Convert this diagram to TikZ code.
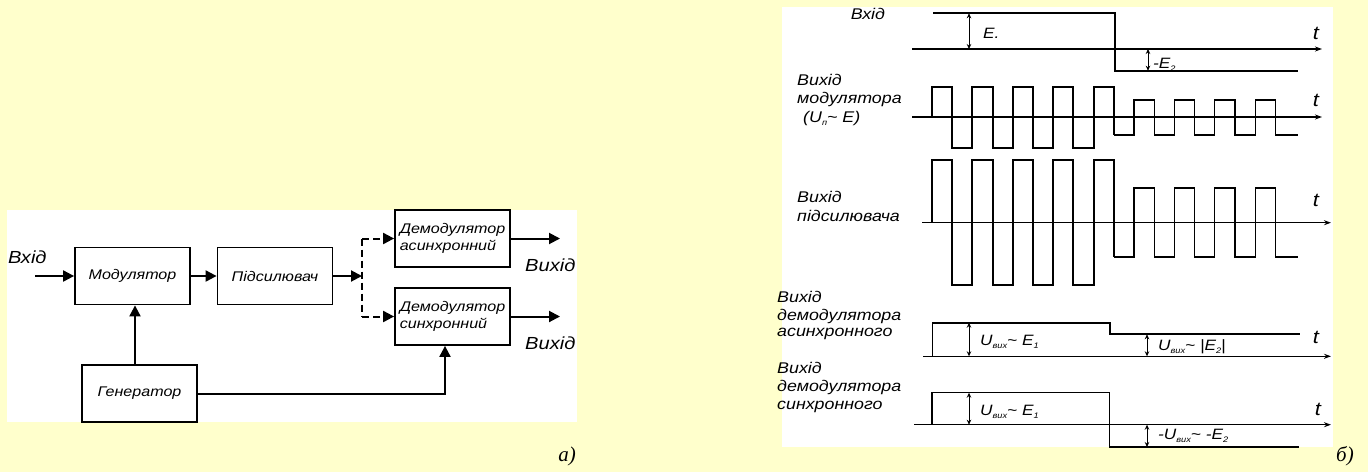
\documentclass[tikz,border=0pt]{standalone}
\usepackage{fontspec}
\newfontfamily\labfont[FakeStretch=1.15]{Liberation Sans}
\newfontfamily\serfont{Liberation Serif}
\usetikzlibrary{arrows.meta,calc}
\definecolor{bgyellow}{RGB}{255,255,204}
\newcommand\lsub[1]{\raisebox{-3pt}{\fontsize{8}{8}\selectfont #1}}
\begin{document}
\begin{tikzpicture}[x=1pt,y=-1pt,
  blk/.style={draw, line width=1.8pt, minimum width=115pt, minimum height=57pt, inner sep=0pt,
    font=\labfont\itshape\fontsize{14}{17.5}\selectfont, align=left, fill=white},
  conn/.style={line width=2pt, -{Triangle[length=11pt,width=11pt]}},
  dconn/.style={conn, dash pattern=on 7pt off 4pt},
  lbl/.style={font=\labfont\itshape\fontsize{15.5}{18}\selectfont, inner sep=0pt, anchor=base west},
  big/.style={font=\labfont\itshape\fontsize{17.5}{20}\selectfont, inner sep=0pt, anchor=west},
  tl/.style={font=\labfont\itshape\fontsize{19}{20}\selectfont, inner sep=0pt},
  val/.style={font=\labfont\itshape\fontsize{15}{17}\selectfont, inner sep=0pt, anchor=base west},
  axis/.style={line width=1.2pt, -{Stealth[length=7pt,width=5pt]}},
  mag/.style={line width=1pt, {Stealth[length=5pt,width=4.5pt]}-{Stealth[length=5pt,width=4.5pt]}},
  sigbig/.style={line width=2pt},
  sigsmall/.style={line width=1.2pt},
  panel/.style={font=\serfont\itshape\fontsize{21}{22}\selectfont, inner sep=0pt},
]
% backgrounds
\fill[bgyellow] (0,0) rectangle (1368,472);
\fill[white] (7,210) rectangle (577,422);
\fill[white] (782,7) rectangle (1333,447);
\useasboundingbox (0,0) rectangle (1368,472);

% ---------------- block diagram (a) ----------------
\node[blk] (mod) at (132.5,276) {Модулятор};
\node[blk] (pod) at (275,276) {Підсилювач};
\node[blk] (gen) at (139.5,393.5) {Генератор};
\node[blk] (das) at (452.5,238.5) {Демодулятор\\асинхронний};
\node[blk] (dsy) at (452.5,316.5) {Демодулятор\\синхронний};

\coordinate (inp) at (35,276);
\node[big] (vin) at (8,257) {Вхід};
\draw[conn] (inp) -- (mod.west);
\draw[conn] (mod.east) -- (pod.west);
\coordinate (split) at (362,276);
\draw[conn] (pod.east) -- (split);
\draw[line width=2pt, dash pattern=on 7pt off 4pt] (split |- das.west) -- (split |- dsy.west);
\draw[dconn] (split |- das.west) -- (das.west);
\draw[dconn] (split |- dsy.west) -- (dsy.west);
\coordinate (oas) at (560,238.5);
\coordinate (osy) at (560,316.5);
\draw[conn] (das.east) -- (oas);
\draw[conn] (dsy.east) -- (osy);
\node[big] (vas) at (525,265) {Вихід};
\node[big] (vsy) at (525,343) {Вихід};
\coordinate (gx) at (135,0);
\draw[conn] (gen.north -| gx) -- (mod.south -| gx);
\draw[conn] (gen.east) -| ($(dsy.south)+(-7.5,0)$);
\node[panel] (pa) at (567,456) {а)};

% ---------------- timing diagram (b) ----------------
% axes
\draw[axis] (912,49) -- (1322,49);
\draw[axis] (912,117) -- (1322,117);
\draw[axis] (922,222.7) -- (1331,222.7);
\draw[axis] (923,356.3) -- (1331,356.3);
\draw[axis] (914,424.7) -- (1331,424.7);
\node[tl] (t1) at (1316,33) {t};
\node[tl] (t2) at (1316,100) {t};
\node[tl] (t3) at (1316,200) {t};
\node[tl] (t4) at (1316,337) {t};
\node[tl] (t5) at (1318,409) {t};

% input
\draw[sigbig] (933,13.3) -- (1114.7,13.3) -- (1114.7,70.7) -- (1298,70.7);
\draw[mag] (969,13.3) -- (969,49);
\draw[mag] (1148,49) -- (1148,70.7);
\node[val] (ve1) at (983,38) {E.};
\node[val] (ve2) at (1153,68) {-E\lsub{2}};
\node[font=\labfont\itshape\fontsize{15.5}{18}\selectfont, inner sep=0pt] (lin) at (868,14) {Вхід};

% modulator output
\draw[sigbig] (932,117) -- (932,87)
  \foreach \i in {1,...,4} { -- ++(20.2,0) -- ++(0,61) -- ++(20.2,0) -- ++(0,-61) }
  -- ++(20.2,0) -- ++(0,48);
\draw[sigsmall] (1113.8,135)
  \foreach \i in {1,...,4} { -- ++(20.2,0) -- ++(0,-35) -- ++(20.2,0) -- ++(0,35) }
  -- (1298,135);
\node[lbl] (lm1) at (797,85) {Вихід};
\node[lbl] (lm2) at (797,103) {модулятора};
\node[lbl] (lm3) at (803,122) {(U\lsub{п}\textasciitilde\ E)};

% amplifier output
\draw[sigbig] (932,222.7) -- (932,160)
  \foreach \i in {1,...,4} { -- ++(20.2,0) -- ++(0,125.3) -- ++(20.2,0) -- ++(0,-125.3) }
  -- ++(20.2,0) -- ++(0,97);
\draw[sigsmall] (1113.8,257)
  \foreach \i in {1,...,4} { -- ++(20.2,0) -- ++(0,-69) -- ++(20.2,0) -- ++(0,69) }
  -- (1298,257);
\node[lbl] (la1) at (797,202) {Вихід};
\node[lbl] (la2) at (797,221) {підсилювача};

% asynchronous demodulator output
\draw[line width=1pt] (932,356.3) -- (932,322.7);
\draw[line width=2.2pt] (932,322.7) -- (1109.7,322.7) -- (1109.7,334.3) -- (1299.7,334.3);
\draw[mag] (969,322.7) -- (969,356.3);
\draw[mag] (1147,334.3) -- (1147,356.3);
\node[val] (va1) at (980,345) {U\lsub{вих}\textasciitilde\ E\lsub{1}};
\node[val] (va2) at (1158,350) {U\lsub{вих}\textasciitilde\ |E\lsub{2}|};
\node[lbl] (ld1) at (777,302) {Вихід};
\node[lbl] (ld2) at (777,320) {демодулятора};
\node[lbl] (ld3) at (777,336) {асинхронного};

% synchronous demodulator output
\draw[line width=1.5pt] (932,424.7) -- (932,392.7) -- (1109.7,392.7) -- (1109.7,447) -- (1299,447);
\draw[mag] (969,392.7) -- (969,424.7);
\draw[mag] (1147,424.7) -- (1147,447);
\node[val] (vs1) at (980,415) {U\lsub{вих}\textasciitilde\ E\lsub{1}};
\node[val] (vs2) at (1158,439) {-U\lsub{вих}\textasciitilde\ -E\lsub{2}};
\node[lbl] (ls1) at (777,373) {Вихід};
\node[lbl] (ls2) at (777,391) {демодулятора};
\node[lbl] (ls3) at (777,409) {синхронного};
\node[panel] (pb) at (1345,456) {б)};
\end{tikzpicture}
\end{document}
